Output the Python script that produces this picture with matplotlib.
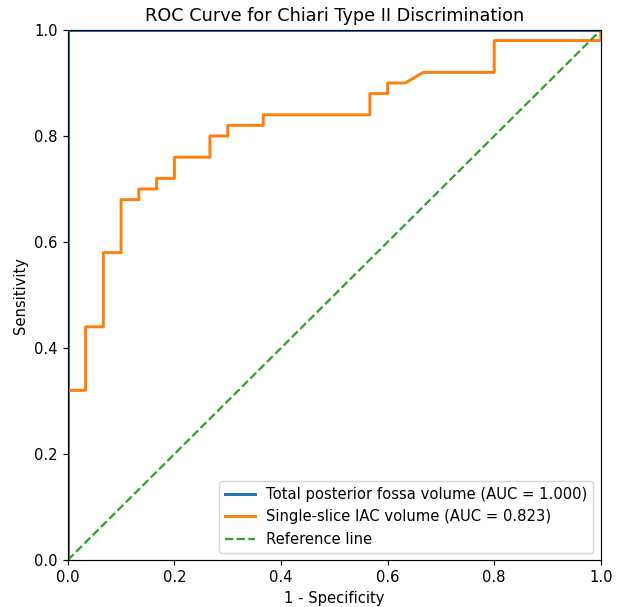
import matplotlib
matplotlib.use("Agg")
import matplotlib.pyplot as plt

# Curva ROC: volume total da fossa posterior (perfeita)
fpr_total = [0.0, 0.0, 1.0]
tpr_total = [0.0, 1.0, 1.0]

# Curva ROC: volume IAC em corte único
fpr_iac = [0.0, 0.0, 0.0333, 0.0333, 0.0667, 0.0667, 0.1, 0.1, 0.1333, 0.1333,
           0.1667, 0.1667, 0.2, 0.2, 0.2667, 0.2667, 0.3, 0.3, 0.3667, 0.3667,
           0.5667, 0.5667, 0.6, 0.6, 0.6333, 0.6667, 0.8, 0.8, 1.0, 1.0]
tpr_iac = [0.0, 0.32, 0.32, 0.44, 0.44, 0.58, 0.58, 0.68, 0.68, 0.70,
           0.70, 0.72, 0.72, 0.76, 0.76, 0.80, 0.80, 0.82, 0.82, 0.84,
           0.84, 0.88, 0.88, 0.90, 0.90, 0.92, 0.92, 0.98, 0.98, 1.0]

auc_total = 1.000
auc_iac = 0.823

dpi = 106
fig = plt.figure(figsize=(622 / dpi, 607 / dpi), dpi=dpi)
ax = fig.add_axes([0.109, 0.0774, 0.857, 0.8732])

ax.plot(fpr_total, tpr_total, color='#1f77b4', lw=2,
        label=f'Total posterior fossa volume (AUC = {auc_total:.3f})')
ax.plot(fpr_iac, tpr_iac, color='#ff7f0e', lw=2,
        label=f'Single-slice IAC volume (AUC = {auc_iac:.3f})')
ax.plot([0, 1], [0, 1], color='#2ca02c', lw=1.5, linestyle='--',
        label='Reference line')

ax.set_xlim(0.0, 1.0)
ax.set_ylim(0.0, 1.0)
ax.set_xlabel('1 - Specificity')
ax.set_ylabel('Sensitivity')
ax.set_title('ROC Curve for Chiari Type II Discrimination')
ax.legend(loc='lower right')

fig.savefig('out.png', dpi=dpi)
